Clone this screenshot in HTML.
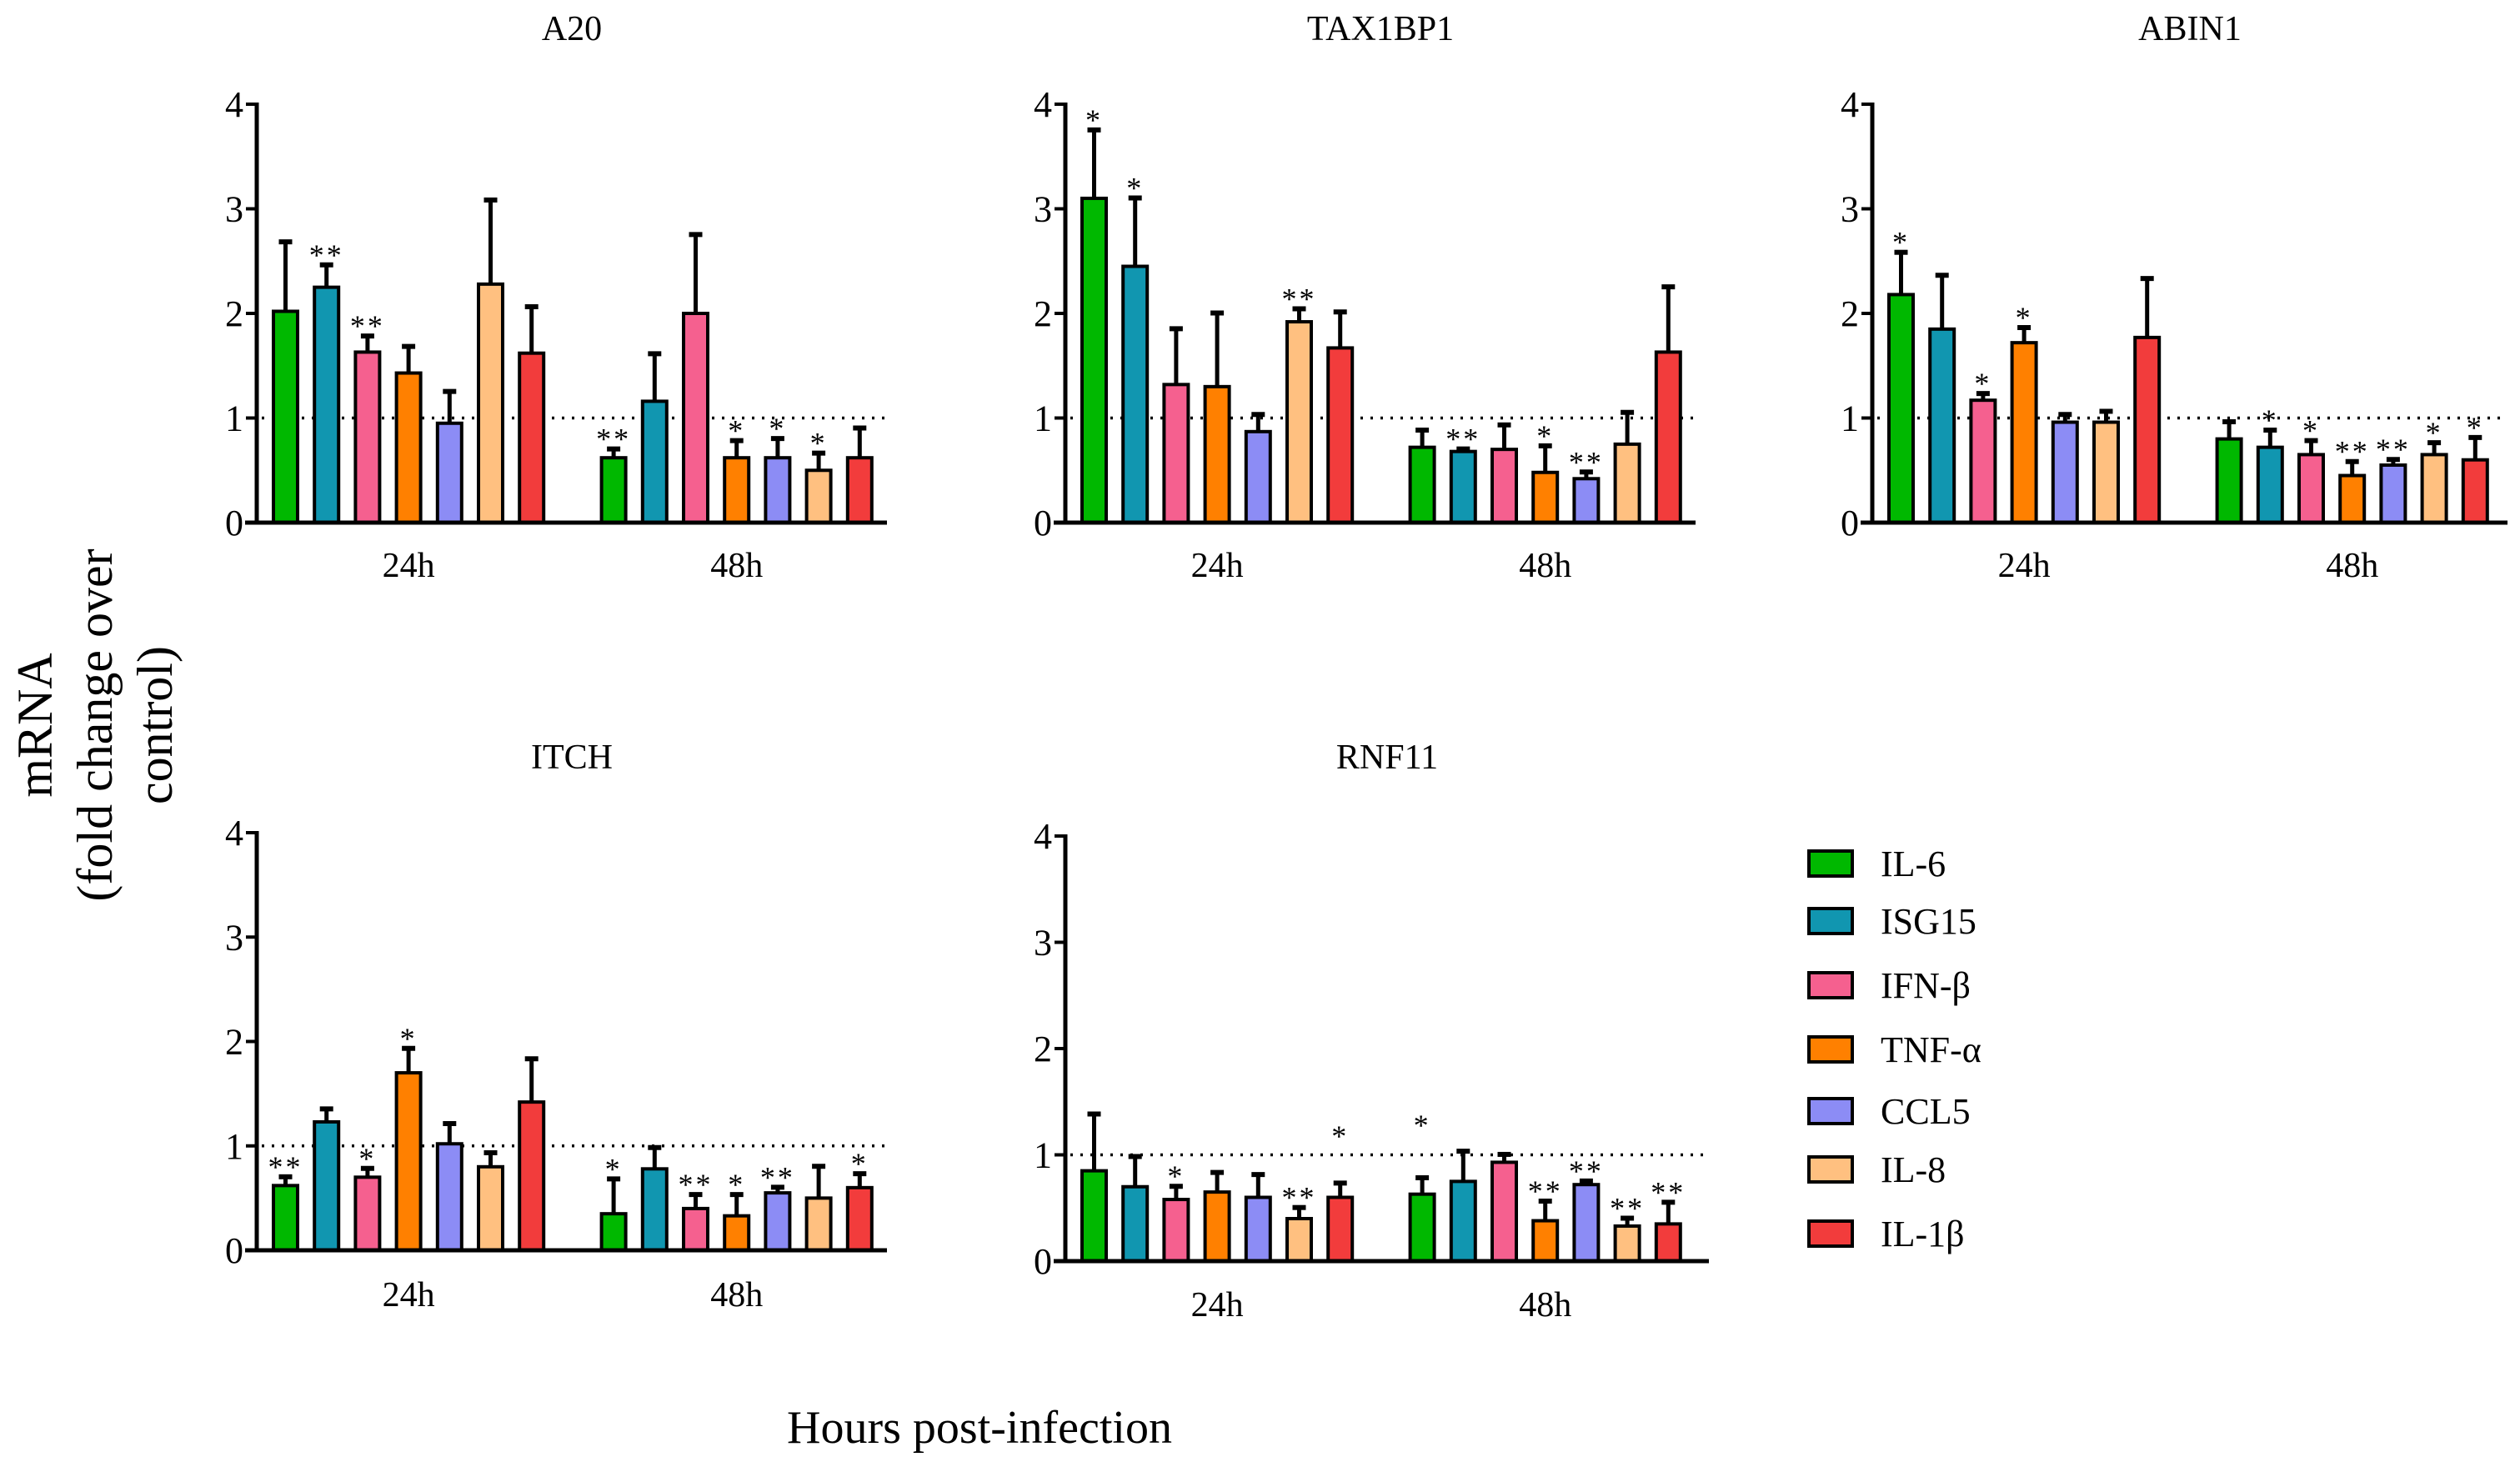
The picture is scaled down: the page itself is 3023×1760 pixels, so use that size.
<!DOCTYPE html>
<html><head><meta charset="utf-8"><style>
html,body{margin:0;padding:0;background:#fff;}
svg{display:block;}
svg text{font-family:"Liberation Serif","DejaVu Serif",serif;}
</style></head><body>
<svg id="fig" width="3023" height="1760" viewBox="0 0 3023 1760" xmlns="http://www.w3.org/2000/svg">
</svg>
<script>
const series = ["IL-6","ISG15","IFN-β","TNF-α","CCL5","IL-8","IL-1β"];
const colors = ["#00b800","#1196b0","#f5608f","#ff8000","#8c8cf5","#ffc080","#f23c3c"];
const groups = ["24h","48h"];
const yTicks = [0,1,2,3,4];
const panelTitles = ["A20","TAX1BP1","ABIN1","ITCH","RNF11"];
// means [24h..., 48h...]
const a20Vals = [2.02,2.25,1.63,1.43,0.95,2.28,1.62, 0.62,1.16,2.0,0.62,0.62,0.5,0.62];
const a20Err  = [2.7,2.48,1.8,1.7,1.27,3.1,2.08, 0.72,1.63,2.77,0.8,0.82,0.68,0.92];
const a20Stars= ["","**","**","","","","", "**","","","*","*","*",""];
const taxVals = [3.1,2.45,1.32,1.3,0.87,1.92,1.67, 0.72,0.68,0.7,0.48,0.42,0.75,1.63];
const taxErr  = [3.77,3.12,1.87,2.02,1.05,2.06,2.03, 0.9,0.72,0.95,0.75,0.5,1.07,2.27];
const taxStars= ["*","*","","","","**","", "","**","","*","**","",""];
const abinVals= [2.18,1.85,1.17,1.72,0.96,0.96,1.77, 0.8,0.72,0.65,0.45,0.55,0.65,0.6];
const abinErr = [2.6,2.38,1.25,1.88,1.05,1.08,2.35, 0.98,0.9,0.8,0.6,0.62,0.78,0.83];
const abinStars=["*","","*","*","","","", "","*","*","**","**","*","*"];
const itchVals= [0.62,1.23,0.7,1.7,1.02,0.8,1.42, 0.35,0.78,0.4,0.33,0.55,0.5,0.6];
const itchErr = [0.72,1.37,0.8,1.95,1.23,0.95,1.85, 0.7,1.0,0.55,0.55,0.62,0.82,0.75];
const itchStars=["**","","*","*","","","", "*","","**","*","**","","*"];
const rnfVals = [0.85,0.7,0.58,0.65,0.6,0.4,0.6, 0.63,0.75,0.93,0.38,0.72,0.33,0.35];
const rnfErr  = [1.4,1.0,0.72,0.85,0.83,0.52,0.75, 0.8,1.05,1.02,0.58,0.77,0.42,0.57];
const rnfStars= ["","","*","","","**","*", "*","","","**","**","**","**"];
const rnfStarLevel=[null,null,null,null,null,null,1.1, 1.2,null,null,null,null,null,null];

const NS="http://www.w3.org/2000/svg";
const FONT='"Liberation Serif", "DejaVu Serif", serif';
const svg=document.getElementById('fig');
function el(tag,attrs,parent){const e=document.createElementNS(NS,tag);for(const k in attrs)e.setAttribute(k,attrs[k]);if(tag==='text')e.setAttribute('font-family',FONT);(parent||svg).appendChild(e);return e;}

const panels=[
 {t:0,ax:308,xEnd:1064,y0:627,y4:125,vals:a20Vals,err:a20Err,stars:a20Stars,lvl:null,titleY:48,catY:692,name:'a20'},
 {t:1,ax:1278,xEnd:2034,y0:627,y4:125,vals:taxVals,err:taxErr,stars:taxStars,lvl:null,titleY:48,catY:692,name:'tax1bp1'},
 {t:2,ax:2246,xEnd:3008,y0:627,y4:125,vals:abinVals,err:abinErr,stars:abinStars,lvl:null,titleY:48,catY:692,name:'abin1'},
 {t:3,ax:308,xEnd:1064,y0:1500,y4:999,vals:itchVals,err:itchErr,stars:itchStars,lvl:null,titleY:922,catY:1567,name:'itch'},
 {t:4,ax:1278,xEnd:2050,y0:1513,y4:1003,vals:rnfVals,err:rnfErr,stars:rnfStars,lvl:rnfStarLevel,titleY:922,catY:1579,name:'rnf11'}
];
const pitch=49.2, bw=29, off=20;
panels.forEach(p=>{
  const g=el('g',{});
  
  
  const y=v=>p.y0-(p.y0-p.y4)*v/4;
  const cx=(p.ax+p.xEnd)/2;
  const tt=el('text',{x:cx,y:p.titleY,'font-size':42,'text-anchor':'middle'},g);
  tt.textContent=panelTitles[p.t];
  
  
  const ref=el('line',{x1:p.ax+6,x2:p.xEnd,y1:y(1),y2:y(1),stroke:'#000','stroke-width':3.5,'stroke-dasharray':'3 9'},g);
  
  
  const n=series.length;
  p.vals.forEach((v,i)=>{
    const gi=Math.floor(i/n), si=i%n;
    const slot=gi*(n+1)+si;
    const x=p.ax+off+slot*pitch;
    const mid=x+bw/2;
    const e=p.err[i];
    const eb=el('line',{x1:mid,x2:mid,y1:y(v),y2:y(e),stroke:'#000','stroke-width':5},g);
    
    
    const cap=el('line',{x1:mid-8,x2:mid+8,y1:y(e)+2,y2:y(e)+2,stroke:'#000','stroke-width':6},g);
    
    
    const r=el('rect',{x:x,y:y(v),width:bw,height:y(0)-y(v),fill:colors[si],stroke:'#000','stroke-width':4},g);
    
    
    const s=p.stars[i];
    if(s){
      const lv=(p.lvl&&p.lvl[i]!=null)?p.lvl[i]:e;
      const st=el('text',{x:mid,y:y(lv)+2,'font-size':36,'text-anchor':'middle','letter-spacing':3},g);
      st.textContent=s;
      
      
    }
  });
  groups.forEach((gname,gi)=>{
    const c=p.ax+off+(gi*(n+1)+(n-1)/2)*pitch+bw/2;
    const t=el('text',{x:c,y:p.catY,'font-size':42,'text-anchor':'middle'},g);
    t.textContent=gname;
    
    
  });
  const ya=el('line',{x1:p.ax,x2:p.ax,y1:p.y4-2,y2:p.y0+2,stroke:'#000','stroke-width':5},g);
  
  
  const xa=el('line',{x1:p.ax-14,x2:p.xEnd,y1:p.y0,y2:p.y0,stroke:'#000','stroke-width':5},g);
  
  
  yTicks.forEach(tv=>{
    const tk=el('line',{x1:p.ax-13,x2:p.ax,y1:y(tv),y2:y(tv),stroke:'#000','stroke-width':4},g);
    
    
    const tl=el('text',{x:p.ax-16,y:y(tv)+15,'font-size':44,'text-anchor':'end'},g);
    tl.textContent=tv;
    
    
  });
});
const legY=[1036,1105,1182,1259,1333,1403,1480];
series.forEach((s,i)=>{
  const g=el('g',{});
  
  
  el('rect',{x:2170,y:legY[i]-15,width:52,height:30,fill:colors[i],stroke:'#000','stroke-width':4},g);
  const t=el('text',{x:2256,y:legY[i]+15,'font-size':44},g);
  t.textContent=s;
});
const yt=el('text',{transform:'translate(0,870) rotate(-90)','font-size':60,'text-anchor':'middle'});


[['mRNA',62],['(fold change over',134],['control)',206]].forEach(([s,xx])=>{
  const ts=el('tspan',{x:0,y:xx},yt);ts.textContent=s;
});
const xt=el('text',{x:1175,y:1731,'font-size':56,'text-anchor':'middle'});
xt.textContent='Hours post-infection';


</script>
</body></html>
